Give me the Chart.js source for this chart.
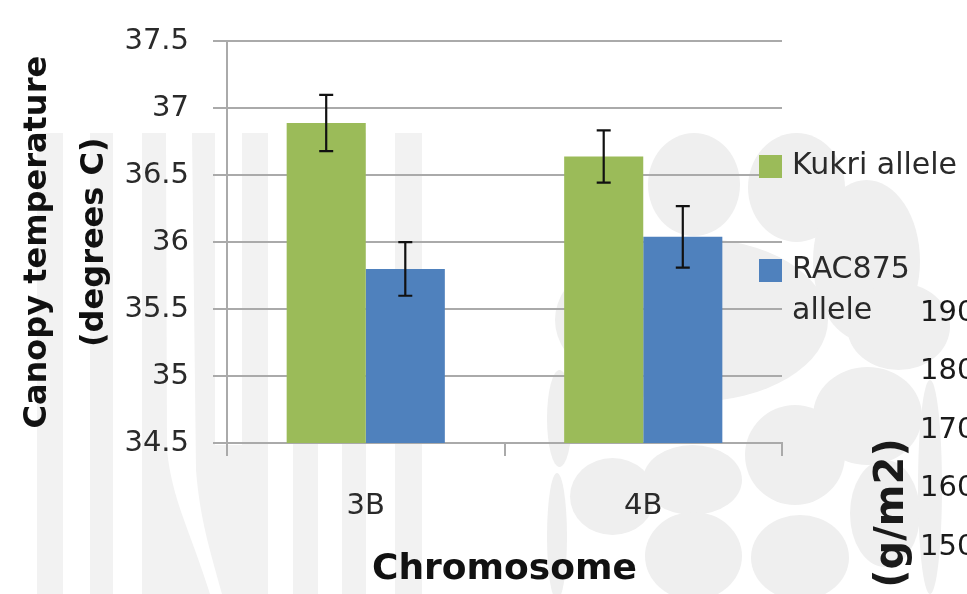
<!DOCTYPE html>
<html>
<head>
<meta charset="utf-8">
<script src="https://cdn.jsdelivr.net/npm/chart.js@4.4.1/dist/chart.umd.min.js"></script>
<style>
  html, body { margin: 0; padding: 0; background: #ffffff; }
  #wrap { width: 967px; height: 594px; position: relative; }
</style>
</head>
<body>
<div id="wrap"><canvas id="c" width="967" height="594"></canvas></div>
<script>
// Canopy temperature by chromosome and parental allele
const categories = ['3B', '4B'];
const seriesNames = ['Kukri allele', 'RAC875 allele'];
const kukri = [36.89, 36.64];
const rac875 = [35.80, 36.04];
const kukriErr = [0.21, 0.195];
const rac875Err = [0.20, 0.23];
const yMin = 34.5;
const yMax = 37.5;
const yStep = 0.5;
// tick labels of the neighbouring biomass panel, cut off at the right edge
const sideTicks = ['190', '180', '170', '160', '150'];
const sideTitle = '(g/m2)';

const FONT = "'DejaVu Sans', sans-serif";
const GREEN = '#9BBB59';
const BLUE = '#4F81BD';
const GRID = '#aaaaaa';

// light poster backdrop: vertical stripes on the left, rounded cells on the right
const backdrop = {
  id: 'backdrop',
  beforeDraw(chart) {
    const ctx = chart.ctx;
    const H = chart.height;
    ctx.save();
    ctx.fillStyle = '#ffffff';
    ctx.fillRect(0, 0, chart.width, H);
    ctx.fillStyle = '#f2f2f2';
    const stripes = [[37, 63], [90, 113], [242, 268], [293, 318], [342, 366], [395, 422]];
    stripes.forEach(([a, b]) => ctx.fillRect(a, 133, b - a, H - 133));
    // stripe that bends to the right near the bottom
    ctx.beginPath();
    ctx.moveTo(142, 133); ctx.lineTo(166, 133); ctx.lineTo(167, 450);
    ctx.bezierCurveTo(172, 500, 190, 530, 210, 594);
    ctx.lineTo(142, 594); ctx.closePath(); ctx.fill();
    // stripe that widens and joins its neighbour below the axis
    ctx.beginPath();
    ctx.moveTo(192, 133); ctx.lineTo(215, 133); ctx.lineTo(215, 445);
    ctx.lineTo(268, 445); ctx.lineTo(268, 594); ctx.lineTo(222, 594);
    ctx.bezierCurveTo(210, 550, 200, 520, 196, 470);
    ctx.lineTo(192, 133); ctx.closePath(); ctx.fill();

    ctx.fillStyle = '#efefef';
    const cells = [
      [648, 133, 740, 236], [748, 133, 845, 242], [813, 180, 920, 342], [847, 283, 950, 370],
      [555, 238, 828, 402], [813, 367, 922, 465], [745, 405, 845, 505], [547, 370, 572, 467],
      [570, 458, 655, 535], [643, 445, 742, 515], [645, 512, 742, 600], [751, 515, 849, 600],
      [850, 460, 920, 567], [547, 473, 567, 600], [918, 380, 942, 594]
    ];
    cells.forEach(([x0, y0, x1, y1]) => {
      ctx.beginPath();
      ctx.ellipse((x0 + x1) / 2, (y0 + y1) / 2, (x1 - x0) / 2, (y1 - y0) / 2, 0, 0, Math.PI * 2);
      ctx.fill();
    });
    ctx.restore();
  }
};

// error bars from the series values and their errors
const errorBars = {
  id: 'errorBars',
  afterDatasetsDraw(chart) {
    const ctx = chart.ctx;
    const y = chart.scales.y;
    const errs = [kukriErr, rac875Err];
    ctx.save();
    ctx.strokeStyle = '#111111';
    ctx.lineWidth = 2.2;
    chart.data.datasets.forEach((ds, di) => {
      const meta = chart.getDatasetMeta(di);
      meta.data.forEach((bar, i) => {
        const v = ds.data[i];
        const e = errs[di][i];
        const yt = y.getPixelForValue(v + e);
        const yb = y.getPixelForValue(v - e);
        const x = bar.x;
        ctx.beginPath();
        ctx.moveTo(x, yt); ctx.lineTo(x, yb);
        ctx.moveTo(x - 7, yt); ctx.lineTo(x + 7, yt);
        ctx.moveTo(x - 7, yb); ctx.lineTo(x + 7, yb);
        ctx.stroke();
      });
    });
    ctx.restore();
  }
};

// legend with wrapped labels, plus the clipped neighbouring axis text
const sideLegend = {
  id: 'sideLegend',
  afterDraw(chart) {
    const ctx = chart.ctx;
    const area = chart.chartArea;
    ctx.save();
    const sq = 23;
    const x0 = area.right - sq;
    const items = [
      { color: GREEN, lines: ['Kukri allele'], top: 155 },
      { color: BLUE, lines: ['RAC875', 'allele'], top: 259 }
    ];
    ctx.font = '30px ' + FONT;
    ctx.textBaseline = 'middle';
    ctx.textAlign = 'left';
    items.forEach(it => {
      ctx.fillStyle = it.color;
      ctx.fillRect(x0, it.top, sq, sq);
      ctx.fillStyle = '#2a2a2a';
      it.lines.forEach((t, k) => ctx.fillText(t, x0 + sq + 10, it.top + sq / 2 + k * 41));
    });

    ctx.font = '29px ' + FONT;
    ctx.fillStyle = '#1a1a1a';
    sideTicks.forEach((t, k) => ctx.fillText(t, 920, 313 + k * 58.5));
    ctx.translate(893, 513);
    ctx.rotate(-Math.PI / 2);
    ctx.font = 'bold 40px ' + FONT;
    ctx.textAlign = 'center';
    ctx.fillText(sideTitle, 0, 0);
    ctx.restore();
  }
};

new Chart(document.getElementById('c'), {
  type: 'bar',
  data: {
    labels: categories,
    datasets: [
      { label: seriesNames[0], data: kukri, backgroundColor: GREEN, borderWidth: 0 },
      { label: seriesNames[1], data: rac875, backgroundColor: BLUE, borderWidth: 0 }
    ]
  },
  options: {
    responsive: false,
    animation: false,
    devicePixelRatio: 1,
    layout: { padding: { top: 21, right: 185, bottom: 0, left: 0 } },
    plugins: {
      legend: { display: false },
      tooltip: { enabled: false }
    },
    datasets: {
      bar: { barPercentage: 1.0, categoryPercentage: 0.57 }
    },
    scales: {
      x: {
        offset: true,
        grid: {
          offset: true,
          drawOnChartArea: false,
          drawTicks: true,
          tickLength: 13,
          color: GRID,
          lineWidth: 2
        },
        border: { display: true, color: GRID, width: 2 },
        ticks: {
          font: { family: FONT, size: 29 },
          color: '#2a2a2a',
          padding: 33
        },
        title: {
          display: true,
          text: 'Chromosome',
          font: { family: FONT, size: 36, weight: 'bold', lineHeight: 1.2 },
          color: '#111111',
          padding: { top: 0, bottom: 3 }
        },
        afterFit(scale) { scale.height = 151; }
      },
      y: {
        min: yMin,
        max: yMax,
        ticks: {
          stepSize: yStep,
          font: { family: FONT, size: 29 },
          color: '#2a2a2a',
          padding: 24,
          callback: (v) => (Number.isInteger(v) ? String(v) : v.toFixed(1))
        },
        grid: {
          color: GRID,
          lineWidth: 2,
          tickLength: 14,
          drawTicks: true
        },
        border: { display: true, color: GRID, width: 2 },
        title: {
          display: true,
          text: ['Canopy temperature', '(degrees C)'],
          font: { family: FONT, size: 32, weight: 'bold', lineHeight: 1.78 },
          color: '#111111',
          padding: { top: 9, bottom: 0 }
        },
        afterFit(scale) { scale.width = 227; }
      }
    }
  },
  plugins: [backdrop, errorBars, sideLegend]
});
</script>
</body>
</html>
